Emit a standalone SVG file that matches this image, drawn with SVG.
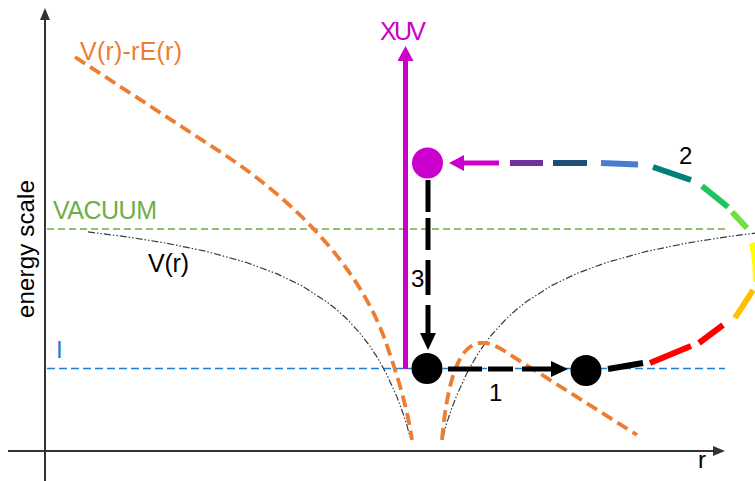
<svg xmlns="http://www.w3.org/2000/svg" width="755" height="481" viewBox="0 0 755 481">
<style>
text{font-family:"Liberation Sans",Arial,sans-serif;font-size:24px}
.lbl{font-size:25px}
.axis{stroke:#333;stroke-width:2;fill:none}
.vr{stroke:#3a3a3a;stroke-width:1.2;fill:none;stroke-dasharray:7 2 1.5 2 1.5 2}
.orange{stroke:#ED7D31;stroke-width:3.8;fill:none;stroke-dasharray:12 6}
.level{stroke-width:1.3;fill:none;stroke-dasharray:7 4}
.seg{stroke-width:6;fill:none}
.blk{stroke:#000;stroke-width:5;fill:none}
</style>
<defs>
<marker id="axh" markerUnits="userSpaceOnUse" markerWidth="12" markerHeight="12" viewBox="0 0 12 12" refX="1" refY="6" orient="auto"><path d="M0,1 L12,6 L0,11 z" fill="#333"/></marker>
<marker id="ahk" markerUnits="userSpaceOnUse" markerWidth="18" markerHeight="16" viewBox="0 0 18 16" refX="0" refY="8" orient="auto"><path d="M0,0 L17,8 L0,16 z" fill="#000"/></marker>
<marker id="ahm" markerUnits="userSpaceOnUse" markerWidth="16" markerHeight="16" viewBox="0 0 16 16" refX="0" refY="8" orient="auto"><path d="M0,0 L15,8 L0,16 z" fill="#CC00CC"/></marker>
</defs>

<g id="axes">
<line class="axis" x1="45" y1="481" x2="45" y2="19" marker-end="url(#axh)"/>
<line class="axis" x1="8" y1="451" x2="714" y2="451" marker-end="url(#axh)"/>
<text transform="translate(34,249) rotate(-90)" text-anchor="middle" fill="#000" textLength="138">energy scale</text>
<text x="698" y="468" fill="#000">r</text>
</g>

<g id="levels">
<line class="level" x1="47" y1="229" x2="727" y2="229" stroke="#70AD47"/>
<text class="lbl" x="53" y="219" fill="#70AD47" textLength="104">VACUUM</text>
<line class="level" x1="47" y1="368.5" x2="725" y2="368.5" stroke="#1A7FD6" style="stroke-dasharray:8 4"/>
<text x="56" y="358" fill="#1A7FD6" font-size="22">I</text>
</g>

<g id="potential-V">
<path class="vr" d="M88,231.9 L126.5,236.8 L166.5,243.2 L206.5,251.4 L246.5,262.5 L276.5,273.6 L301.5,285.6 L326.5,301.6 L336.5,309.5 L346.5,318.5 L361.5,335 L369.5,345.6 L376.5,356.1 L386.5,373.9 L396.5,395.9 L401.5,408.9 L406.5,423.7 L410,437"/>
<path class="vr" d="M443,437 L446.5,423.7 L451.5,408.9 L456.5,395.9 L466.5,373.9 L476.5,356.1 L483.5,345.6 L491.5,335 L506.5,318.5 L516.5,309.5 L526.5,301.6 L551.5,285.6 L576.5,273.6 L606.5,262.5 L646.5,251.4 L686.5,243.2 L726.5,236.8 L757,232.9"/>
<text class="lbl" x="148" y="272" fill="#000" textLength="41">V(r)</text>
</g>

<g id="potential-VE">
<path class="orange" d="M75,57 L225,155 C300,205 360,270 385,340 C395,368 407,405 412,440"/>
<path class="orange" d="M442,440 C446,395 455,345 480,343 C495,342 505,352 520,361 L637,435"/>
<text class="lbl" x="80" y="60" fill="#ED7D31" textLength="102">V(r)-rE(r)</text>
</g>

<g id="xuv">
<line x1="405.5" y1="369" x2="405.5" y2="61" stroke="#CC00CC" stroke-width="5" marker-end="url(#ahm)"/>
<text class="lbl" x="380" y="40" fill="#CC00CC" textLength="46">XUV</text>
</g>

<g id="connectors">
<g id="path-1">
<line x1="448" y1="369" x2="551" y2="369" class="blk" style="stroke-dasharray:34 6 25 9 40" marker-end="url(#ahk)"/>
<text x="489" y="401" fill="#000" font-size="25">1</text>
</g>
<g id="path-2">
<line class="seg" x1="608" y1="369" x2="643" y2="363" stroke="#000"/>
<line class="seg" x1="650" y1="363" x2="691" y2="346" stroke="#FF0000"/>
<line class="seg" x1="699" y1="343" x2="723" y2="325" stroke="#FF0000"/>
<line class="seg" x1="735" y1="318" x2="753" y2="290" stroke="#FFC000"/>
<path class="seg" d="M752,243 Q756,260 756,282" stroke="#FFFF00"/>
<line class="seg" x1="732" y1="212" x2="747" y2="228" stroke="#70E040"/>
<line class="seg" x1="702" y1="186" x2="728" y2="207" stroke="#1EC45E"/>
<line class="seg" x1="653" y1="167" x2="691" y2="180" stroke="#00807A"/>
<line class="seg" x1="601" y1="163" x2="638" y2="164.5" stroke="#4A7CD0"/>
<line class="seg" x1="553" y1="163" x2="587" y2="163" stroke="#1F4E79"/>
<line class="seg" x1="510" y1="163" x2="543" y2="163" stroke="#7030A0"/>
<line x1="499" y1="163" x2="464" y2="163" stroke="#CC00CC" stroke-width="5" marker-end="url(#ahm)"/>
<text x="679" y="164" fill="#000">2</text>
</g>
<g id="path-3">
<line x1="428" y1="180" x2="428" y2="333" class="blk" style="stroke-dasharray:32 6 32 10 35 10 40" marker-end="url(#ahk)"/>
<text x="411" y="287" fill="#000">3</text>
</g>
</g>

<g id="electron-bound"><circle cx="427" cy="368.5" r="15.5" fill="#000"/></g>
<g id="electron-free"><circle cx="586" cy="370.5" r="15.5" fill="#000"/></g>
<g id="electron-excited"><circle cx="427.5" cy="163" r="15.5" fill="#CC00CC"/></g>
</svg>
